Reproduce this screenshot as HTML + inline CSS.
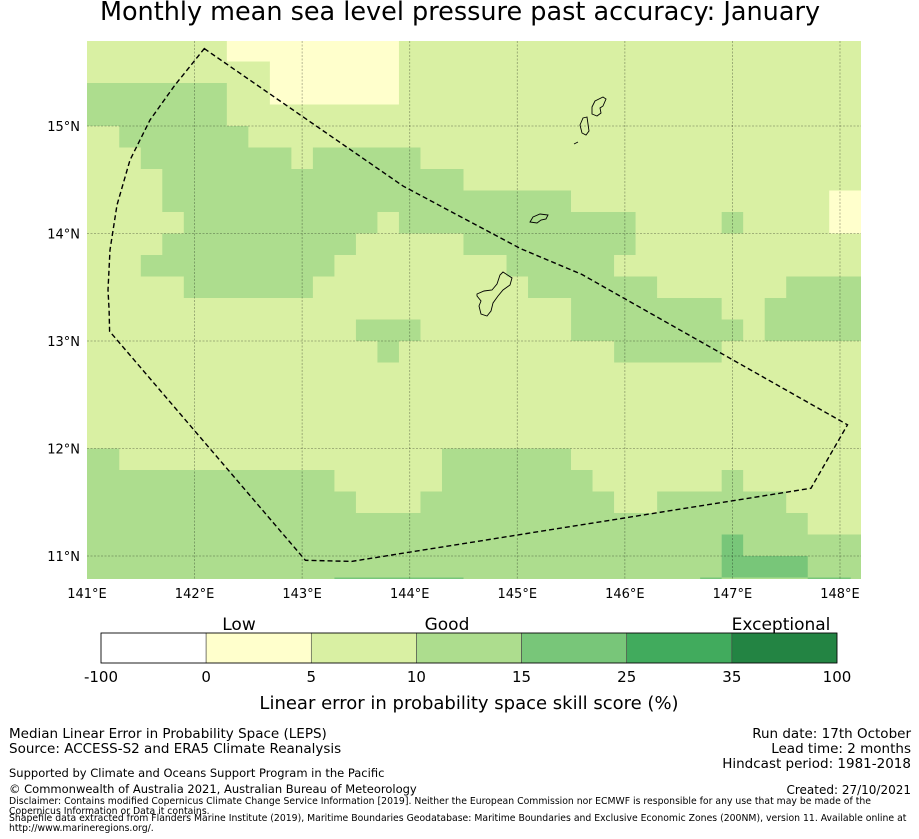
<!DOCTYPE html>
<html><head><meta charset="utf-8"><style>
html,body{margin:0;padding:0;background:#fff;}
svg{display:block;font-family:"DejaVu Sans","Liberation Sans",sans-serif;}
</style></head><body>
<svg id="chart" width="919" height="839" viewBox="0 0 919 839" xmlns="http://www.w3.org/2000/svg">
<text x="460" y="20" text-anchor="middle" font-size="25.5" fill="#000">Monthly mean sea level pressure past accuracy: January</text>
<defs><clipPath id="mapclip"><rect x="87" y="41" width="774" height="538"/></clipPath></defs>
<g id="map" clip-path="url(#mapclip)">
<g id="cells"></g>
<g id="grid"></g>
<g id="islands" fill="none" stroke="#000" stroke-width="0.9">
<path d="M477,294 L484,291 L492,290 L497,284 L500,275 L503,272 L512,278 L510,285 L503,290 L498,296 L493,303 L491,311 L487,316 L481,314 L479,306 L481,301 L477,296 Z"/>
<path d="M530,222 L533,217 L540,214 L548,215 L546,219 L541,220 L537,223 Z"/>
<path d="M580,125 L583,118 L587,117 L588,124 L589,131 L586,135 L582,133 Z"/>
<path d="M592,107 L595,101 L603,97 L606,99 L603,106 L600,108 L601,113 L597,116 L592,114 Z"/>
<path d="M574,144 L578,142"/>
</g>
<path id="poly" fill="none" stroke="#000" stroke-width="1.4" stroke-dasharray="5,3"/>
</g>
<g id="axes" font-size="13" fill="#000"></g>
<g id="colorbar"></g>
<text x="239" y="630" text-anchor="middle" font-size="17">Low</text>
<text x="447" y="630" text-anchor="middle" font-size="17">Good</text>
<text x="781" y="630" text-anchor="middle" font-size="17">Exceptional</text>
<text x="469" y="709" text-anchor="middle" font-size="18">Linear error in probability space skill score (%)</text>
<g font-size="13.5">
<text x="9" y="738">Median Linear Error in Probability Space (LEPS)</text>
<text x="9" y="753">Source: ACCESS-S2 and ERA5 Climate Reanalysis</text>
<text x="9" y="777" font-size="11.5">Supported by Climate and Oceans Support Program in the Pacific</text>
<text x="9" y="793" font-size="11.5">© Commonwealth of Australia 2021, Australian Bureau of Meteorology</text>
<text x="9" y="804" font-size="9.3">Disclaimer: Contains modified Copernicus Climate Change Service Information [2019]. Neither the European Commission nor ECMWF is responsible for any use that may be made of the</text>
<text x="9" y="814" font-size="9.3">Copernicus Information or Data it contains.</text>
<text x="9" y="821" font-size="9.3">Shapefile data extracted from Flanders Marine Institute (2019), Maritime Boundaries Geodatabase: Maritime Boundaries and Exclusive Economic Zones (200NM), version 11. Available online at</text>
<text x="9" y="831" font-size="9.3">http://www.marineregions.org/.</text>
</g>
<g font-size="13.5" text-anchor="end">
<text x="911" y="738">Run date: 17th October</text>
<text x="911" y="753">Lead time: 2 months</text>
<text x="911" y="768">Hindcast period: 1981-2018</text>
<text x="911" y="794" font-size="12">Created: 27/10/2021</text>
</g>
</svg>
<script>
// Skill category per cell, run-length encoded per row: [category, count]; 37 columns of 0.2°, rows of 0.2° from 15.8N down
const gridRows = [
 [[2,7],[1,8],[2,22]],
 [[2,9],[1,6],[2,22]],
 [[3,7],[2,2],[1,6],[2,22]],
 [[3,7],[2,30]],
 [[2,2],[3,6],[2,29]],
 [[2,3],[3,7],[2,1],[3,5],[2,21]],
 [[2,4],[3,14],[2,19]],
 [[2,4],[3,19],[2,12],[1,2]],
 [[2,5],[3,9],[2,1],[3,11],[2,4],[3,1],[2,4],[1,2]],
 [[2,4],[3,9],[2,5],[3,8],[2,11]],
 [[2,3],[3,9],[2,8],[3,5],[2,12]],
 [[2,5],[3,6],[2,10],[3,6],[2,6],[3,4]],
 [[2,23],[3,7],[2,2],[3,5]],
 [[2,13],[3,3],[2,7],[3,8],[2,1],[3,5]],
 [[2,14],[3,1],[2,10],[3,5],[2,7]],
 [[2,37]],[[2,37]],[[2,37]],[[2,37]],
 [[3,2],[2,15],[3,6],[2,14]],
 [[3,12],[2,5],[3,7],[2,6],[3,1],[2,6]],
 [[3,13],[2,3],[3,9],[2,2],[3,6],[2,4]],
 [[3,34],[2,3]],
 [[3,30],[4,1],[3,6]],
 [[3,30],[4,4],[3,3]],
 [[3,12],[4,6],[3,11],[4,1],[3,4],[4,2],[3,1]]
];
const lonStart = 140.9, latTop = 15.8, cellDeg = 0.2;
const categoryColors = ["#ffffff","#ffffcc","#d9f0a3","#addd8e","#78c679","#41ab5d","#238443"];
const lonTicks = [141,142,143,144,145,146,147,148];
const latTicks = [11,12,13,14,15];
const boundaryLon = [142.09,143.94,145.03,145.6,148.07,147.73,143.46,143.03,141.21,141.205,141.195,141.214,141.279,141.40,141.586,141.818];
const boundaryLat = [15.72,14.44,13.86,13.62,12.22,11.63,10.95,10.96,13.09,13.288,13.474,13.847,14.265,14.684,15.056,15.381];
const cbTicks = ["-100","0","5","10","15","25","35","100"];

const NS="http://www.w3.org/2000/svg";
const xOf = lon => 87 + (lon-141)*107.57;
const yOf = lat => 556 - (lat-11)*107.5;
function mk(tag, attrs, parent){const e=document.createElementNS(NS,tag);for(const k in attrs)e.setAttribute(k,attrs[k]);parent.appendChild(e);return e;}

const cells=document.getElementById('cells');
gridRows.forEach((row,j)=>{
  let col=0;
  row.forEach(([cat,n])=>{
    const x0=xOf(lonStart+col*cellDeg), x1=xOf(lonStart+(col+n)*cellDeg);
    const y0=yOf(latTop-j*cellDeg), y1=yOf(latTop-(j+1)*cellDeg);
    const r=mk('rect',{x:x0,y:y0,width:x1-x0+0.3,height:y1-y0+0.3,fill:categoryColors[cat]},cells);
    
    
    col+=n;
  });
});

const grid=document.getElementById('grid'), axes=document.getElementById('axes');
lonTicks.forEach(l=>{
  const x=xOf(l);
  if(l>141){const g=mk('line',{x1:x,x2:x,y1:41,y2:579,stroke:'#000','stroke-opacity':0.35,'stroke-width':0.8,'stroke-dasharray':'2,1.5'},grid);
  
  }
  const t=mk('text',{x:x,y:598,'text-anchor':'middle'},axes);t.textContent=l+'°E';
  
  
});
latTicks.forEach(l=>{
  const y=yOf(l);
  const g=mk('line',{x1:87,x2:861,y1:y,y2:y,stroke:'#000','stroke-opacity':0.35,'stroke-width':0.8,'stroke-dasharray':'2,1.5'},grid);
  
  
  const t=mk('text',{x:80,y:y+5,'text-anchor':'end'},axes);t.textContent=l+'°N';
  
  
});

let d='';
boundaryLon.forEach((l,i)=>{d+=(i?'L':'M')+xOf(l).toFixed(1)+','+yOf(boundaryLat[i]).toFixed(1)+' ';});
document.getElementById('poly').setAttribute('d',d+'Z');

const cb=document.getElementById('colorbar');
const cbX=101, cbW=736, cbY=633, cbH=30, segW=cbW/categoryColors.length;
categoryColors.forEach((c,i)=>{
  const r=mk('rect',{x:cbX+i*segW,y:cbY,width:segW,height:cbH,fill:c,stroke:'#444','stroke-width':0.6},cb);
  
  
});
mk('rect',{x:cbX,y:cbY,width:cbW,height:cbH,fill:'none',stroke:'#000','stroke-width':0.8},cb);
cbTicks.forEach((t,i)=>{
  const e=mk('text',{x:cbX+i*segW,y:682,'text-anchor':'middle','font-size':15},cb);e.textContent=t;
  
  
});
</script>
</body></html>
